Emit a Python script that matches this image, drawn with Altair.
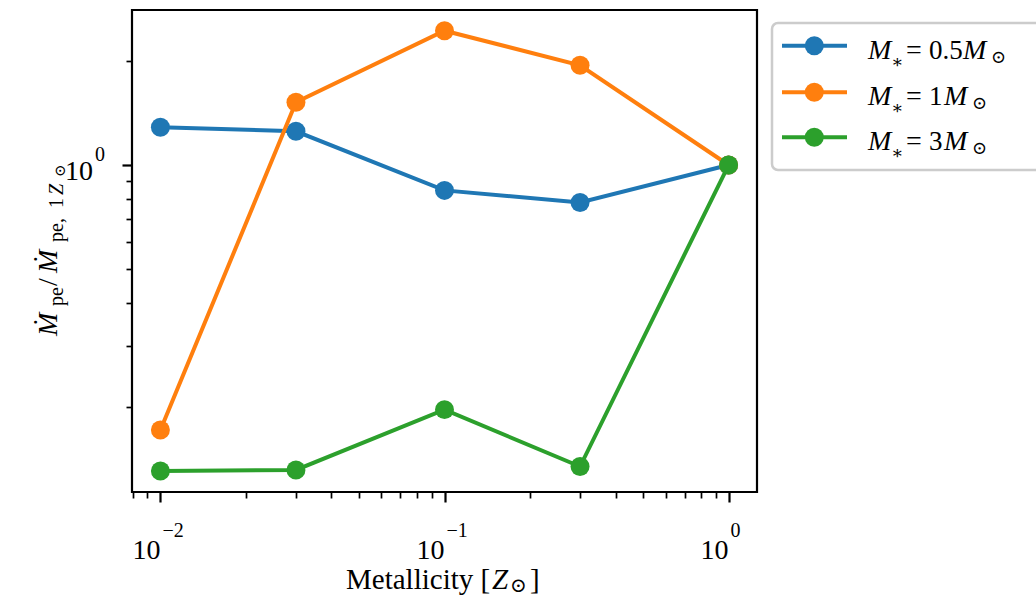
import altair as alt
import pandas as pd

# Photoevaporation rate relative to the solar-metallicity run
metallicity = [0.01, 0.03, 0.1, 0.3, 1.0]
rate_m05 = [1.285, 1.251, 0.845, 0.780, 1.0]
rate_m1 = [0.172, 1.517, 2.44, 1.940, 1.0]
rate_m3 = [0.131, 0.132, 0.197, 0.135, 1.0]

series_keys = ["0.5", "1", "3"]
series_rates = [rate_m05, rate_m1, rate_m3]
series_colors = ["#1f77b4", "#ff7f0e", "#2ca02c"]

# axis ticks
x_ticks = [0.008, 0.009, 0.01, 0.02, 0.03, 0.04, 0.05, 0.06, 0.07, 0.08, 0.09,
           0.1, 0.2, 0.3, 0.4, 0.5, 0.6, 0.7, 0.8, 0.9, 1.0]
y_ticks = [0.2, 0.3, 0.4, 0.5, 0.6, 0.7, 0.8, 0.9, 1.0, 2.0]
x_major = [0.01, 0.1, 1.0]
x_major_exp = ["\u22122", "\u22121", "0"]
y_major = [1.0]
y_major_exp = ["0"]

rows = []
for key, rates in zip(series_keys, series_rates):
    for z, r in zip(metallicity, rates):
        rows.append({"series": key, "Z": z, "rate": r})
df = pd.DataFrame(rows)

W, H = 625, 482
FONT = "Liberation Serif"
SYM = "DejaVu Serif"

MAJOR = "abs(log(datum.value)/LN10 - round(log(datum.value)/LN10)) < 1e-6"
tick_size = {"condition": {"test": MAJOR, "value": 10}, "value": 6}
tick_width = {"condition": {"test": MAJOR, "value": 2.2}, "value": 1.7}

x_scale = alt.Scale(type="log", domain=[10 ** -2.1, 10 ** 0.1], nice=False)
y_scale = alt.Scale(type="log", domain=[0.114, 2.80], nice=False)
x_axis = alt.Axis(values=x_ticks, labels=False, title=None, domain=False, grid=False,
                  tickColor="black", tickSize=tick_size, tickWidth=tick_width)
y_axis = alt.Axis(values=y_ticks, labels=False, title=None, domain=False, grid=False,
                  tickColor="black", tickSize=tick_size, tickWidth=tick_width)

X = alt.X("Z:Q", scale=x_scale, axis=x_axis)
Y = alt.Y("rate:Q", scale=y_scale, axis=y_axis)

layers = []
for key, color in zip(series_keys, series_colors):
    part = alt.Chart(df).transform_filter(alt.datum.series == key)
    layers.append(part.mark_line(color=color, strokeWidth=4).encode(x=X, y=Y))
    layers.append(part.mark_point(filled=True, opacity=1, size=360, color=color)
                  .encode(x=X, y=Y))

# tick labels of the form 10^n
xlab = pd.DataFrame({"Z": x_major, "e": x_major_exp})
layers.append(alt.Chart(xlab).mark_text(text="10", font=FONT, fontSize=28, align="right",
                                        baseline="alphabetic", color="black")
              .encode(x=X, y=alt.value(H + 67)))
layers.append(alt.Chart(xlab).mark_text(font=FONT, fontSize=20, align="left", dx=2,
                                        baseline="alphabetic", color="black")
              .encode(x=X, y=alt.value(H + 45), text="e:N"))
ylab = pd.DataFrame({"rate": y_major, "e": y_major_exp})
layers.append(alt.Chart(ylab).mark_text(text="10", font=FONT, fontSize=28, align="right",
                                        baseline="alphabetic", dy=15, color="black")
              .encode(x=alt.value(-39), y=Y))
layers.append(alt.Chart(ylab).mark_text(font=FONT, fontSize=20, align="left", dy=-4,
                                        baseline="alphabetic", color="black")
              .encode(x=alt.value(-37), y=Y, text="e:N"))

ONE = pd.DataFrame({"k": [0]})


def seg(text, x, y, size, italic=False, font=FONT, angle=0, dx=0, dy=0):
    return (alt.Chart(ONE)
            .mark_text(text=text, font=font, fontSize=size, angle=angle, dx=dx, dy=dy,
                       fontStyle="italic" if italic else "normal", align="left",
                       baseline="alphabetic", color="black")
            .encode(x=alt.value(x), y=alt.value(y)))


# x-axis title: Metallicity [Z_sun]
xt_x, xt_y = 214, H + 97
layers += [
    seg("Metallicity [", xt_x, xt_y, 29),
    seg("Z", xt_x + 146, xt_y, 29, italic=True),
    seg("\u2299", xt_x + 164, xt_y, 20, font=SYM, dy=3),
    seg("]", xt_x + 184, xt_y, 29),
]

# y-axis title: Mdot_pe / Mdot_pe,1Z_sun, read bottom to top
yt_x, yt_y = -75, 326
ytitle = [
    ("\u1e40", 0, 28, True, FONT, 0),
    ("pe", 30, 20, False, FONT, 6),
    ("/", 50, 28, False, FONT, 0),
    ("\u1e40", 63, 28, True, FONT, 0),
    ("pe,", 94, 20, False, FONT, 6),
    ("1", 128, 20, False, FONT, 6),
    ("Z", 141, 20, True, FONT, 6),
    ("\u2299", 159, 15, False, SYM, 8),
]
for text, off, size, it, font, sub in ytitle:
    layers.append(seg(text, yt_x, yt_y, size, italic=it, font=font, angle=270,
                      dx=off, dy=sub))

# legend
layers.append(alt.Chart(ONE).mark_rect(fill="white", fillOpacity=0.8, stroke="#cccccc",
                                       strokeWidth=2.5, cornerRadius=6)
              .encode(x=alt.value(640), x2=alt.value(925), y=alt.value(13),
                      y2=alt.value(160)))
legend_rows = [35.7, 82.3, 127.3]
legend_num_width = [34, 15, 15]
for key, color, ry, nw in zip(series_keys, series_colors, legend_rows, legend_num_width):
    layers.append(alt.Chart(ONE).mark_rule(color=color, strokeWidth=4)
                  .encode(x=alt.value(650), x2=alt.value(715), y=alt.value(ry)))
    layers.append(alt.Chart(ONE).mark_point(filled=True, opacity=1, size=360, color=color)
                  .encode(x=alt.value(682.3), y=alt.value(ry)))
    by = ry + 13
    layers += [
        seg("M", 736, by, 28, italic=True),
        seg("\u2217", 759, by, 18, font=SYM, dy=9),
        seg("=", 774, by, 28),
        seg(key, 797, by, 27),
        seg("M", 797 + nw, by, 28, italic=True),
        seg("\u2299", 797 + nw + 28, by, 18, font=SYM, dy=4),
    ]

chart = (
    alt.layer(*layers)
    .properties(width=W, height=H, background="white",
                padding={"left": 132, "top": 10, "right": 1036 - 132 - W,
                         "bottom": 597 - 10 - H},
                autosize=alt.AutoSizeParams(type="none"))
    .configure_view(stroke="black", strokeWidth=2.2)
)

chart.save("out.html", embed_options={"renderer": "svg", "actions": False})
